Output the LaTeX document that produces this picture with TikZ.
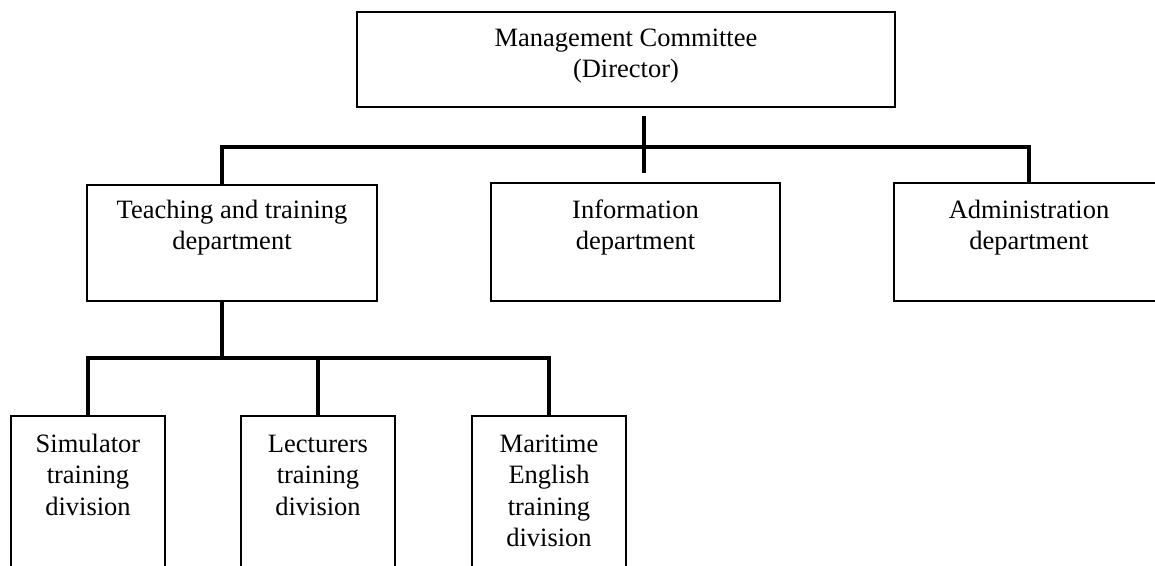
\documentclass[tikz,border=0pt]{standalone}
\usepackage{fontspec}
\setmainfont{Liberation Serif}
\newcommand\boxlines[1]{\parbox[t]{320pt}{\centering #1}}
\begin{document}
\begin{tikzpicture}[x=1pt, y=-1pt,
  orgbox/.style={draw, line width=1.4pt, inner sep=0pt, outer sep=0pt, fill=white},
  caption/.style={anchor=base, inner sep=0pt, yshift=-#1,
    font=\fontsize{26.5}{31.5}\selectfont},
  caption/.default=34pt,
  conn/.style={line width=3.4pt}]
  \useasboundingbox (0,0) rectangle (1155,565);
  \clip (0,0) rectangle (1155,565);

  % top level
  \node[orgbox, minimum width=538pt, minimum height=95pt,
    label={[caption]north:\boxlines{Management Committee\\(Director)}}] (dir) at (626,59.5) {};

  % departments
  \node[orgbox, minimum width=290pt, minimum height=116pt,
    label={[caption=33pt]north:\boxlines{Teaching and training\\department}}] (tt) at (232,243) {};
  \node[orgbox, minimum width=289pt, minimum height=118pt,
    label={[caption=35pt]north:\boxlines{Information\\department}}] (info) at (635.5,242) {};
  \node[orgbox, minimum width=270pt, minimum height=118pt,
    label={[caption=35pt]north:\boxlines{Administration\\department}}] (admin) at (1029,242) {};

  % divisions
  \node[orgbox, minimum width=154pt, minimum height=174pt,
    label={[caption=36pt]north:\boxlines{Simulator\\training\\division}}] (sim) at (88,503) {};
  \node[orgbox, minimum width=154pt, minimum height=174pt,
    label={[caption=36pt]north:\boxlines{Lecturers\\training\\division}}] (lec) at (318,503) {};
  \node[orgbox, minimum width=154pt, minimum height=174pt,
    label={[caption=36pt]north:\boxlines{Maritime\\English\\training\\division}}] (mar) at (549,503) {};

  % connector junctions
  \coordinate (stubtop) at (644,116);
  \coordinate (stubbot) at (644,173);
  \coordinate (ttbend) at (222,147);
  \coordinate (divbus) at (222,358);

  % department bus
  \draw[conn] (stubtop) -- (stubbot);
  \draw[conn] (tt.north -| ttbend) -- (ttbend) -- (ttbend -| admin.north) -- (admin.north);

  % division bus
  \draw[conn] (tt.south -| divbus) -- (divbus);
  \draw[conn] (sim.north) -- (sim.north |- divbus) -- (mar.north |- divbus) -- (mar.north);
  \draw[conn] (lec.north) -- (lec.north |- divbus);
\end{tikzpicture}
\end{document}
